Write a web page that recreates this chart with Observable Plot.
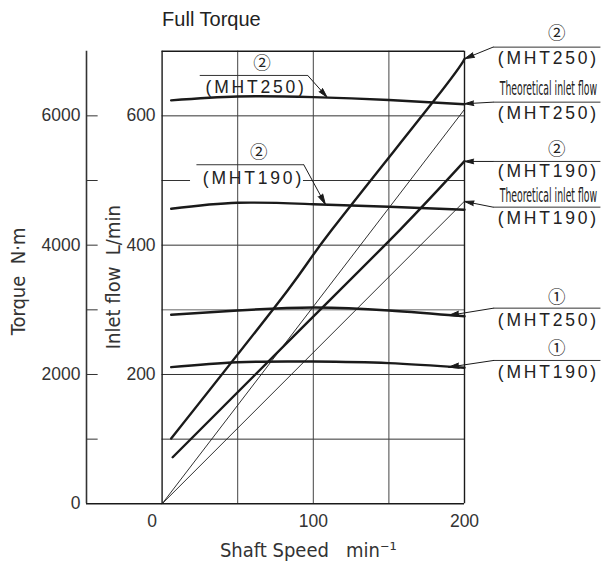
<!DOCTYPE html>
<html><head><meta charset="utf-8">
<script src="https://cdn.jsdelivr.net/npm/d3@7"></script>
<script src="https://cdn.jsdelivr.net/npm/@observablehq/plot@0.6"></script>
<style>body{margin:0;background:#fff}</style>
</head><body><div id="chart"></div>
<script>
// ---- data ----
const torqueSpeed = [6, 50, 100, 150, 200];
const torque2MHT250 = [6240, 6300, 6290, 6245, 6180];
const torque2MHT190 = [4563, 4656, 4634, 4595, 4548];
const torque1MHT250 = [2923, 2990, 3035, 2990, 2900];
const torque1MHT190 = [2113, 2190, 2200, 2175, 2104];

const flow2MHT250Speed = [6, 83, 112, 180, 200];
const flow2MHT250 = [101, 330, 423, 624, 688];
const flow2MHT190Speed = [7, 92, 157, 200];
const flow2MHT190 = [72, 271, 423, 530];

const theoSpeed = [0, 200];
const theoMHT250 = [0, 610];
const theoMHT190 = [0, 468];

const speedTicks = [0, 100, 200];
const flowTickLabels = [200, 400, 600];
const flowGrid = [100, 200, 400, 500, 600];
const flowGridLight = [300];
const speedGrid = [50, 100, 150];
const torqueTicks = [1000, 2000, 3000, 4000, 5000, 6000];
const torqueTickLabels = [0, 2000, 4000, 6000];

// annotations (label texts and where they sit, in data units)
const notes = [
  {top: "②", bottom: "(MHT250)", tx: 255.5, cx: 261, ty1: 727, ty2: 688.3, lx1: 218.9, lx2: 289.9, ly: 706.3, ax: 200, ay: 688.3},
  {top: "Theoretical inlet flow", bottom: "(MHT250)", tx: 255.5, cx: 255.5, ty1: 642.3, ty2: 603.7, lx1: 218.9, lx2: 289.9, ly: 621.2, ax: 200, ay: 618.7},
  {top: "②", bottom: "(MHT190)", tx: 255.5, cx: 261, ty1: 547.6, ty2: 514, lx1: 218.9, lx2: 289.9, ly: 529.5, ax: 200, ay: 529.5},
  {top: "Theoretical inlet flow", bottom: "(MHT190)", tx: 255.5, cx: 255.5, ty1: 476.9, ty2: 441.3, lx1: 218.9, lx2: 289.9, ly: 458.8, ax: 200, ay: 467.6},
  {top: "①", bottom: "(MHT250)", tx: 255.5, cx: 261, ty1: 319.6, ty2: 283.5, lx1: 219.3, lx2: 289.9, ly: 302.6, ax: 189.5, ay: 291.3},
  {top: "①", bottom: "(MHT190)", tx: 255.5, cx: 261, ty1: 239.8, ty2: 203.6, lx1: 219.3, lx2: 289.9, ly: 221.7, ax: 189.5, ay: 211.3},
  {top: "②", bottom: "(MHT250)", tx: 62.2, cx: 66.1, ty1: 680.6, ty2: 644.4, lx1: 24.9, lx2: 96.3, ly: 662.5, ax: 109.1, ay: 628.9},
  {top: "②", bottom: "(MHT190)", tx: 60.4, cx: 63.9, ty1: 543.9, ty2: 502.7, lx1: 22.7, lx2: 93.7, ly: 524.4, ax: 108, ay: 463}
];

const toRows = (xs, ys) => xs.map((x, i) => ({x, y: ys[i]}));
const torqueRows = ys => torqueSpeed.map((x, i) => ({x, y: ys[i] / 10}));

const sans = "'Liberation Sans', Arial, Helvetica, sans-serif";
const narrow = "'Liberation Sans Narrow', 'Arial Narrow', 'DejaVu Sans Condensed', 'Liberation Sans', sans-serif";
const circled = "'Noto Sans CJK JP', 'DejaVu Sans', sans-serif";
const ink = "#1a1a1a";

const thick = 2.4, thin = 0.9;

const svg = Plot.plot({
  width: 603,
  height: 562,
  marginLeft: 86,
  marginRight: 139,
  marginTop: 50.7,
  marginBottom: 58.7,
  x: {domain: [-50, 200], axis: null},
  y: {domain: [0, 700], axis: null},
  style: {background: "white", color: ink},
  marks: [
    // grid
    Plot.ruleY(flowGrid, {x1: 0, x2: 200, stroke: "#333", strokeWidth: 1}),
    Plot.ruleY(flowGridLight, {x1: 0, x2: 200, stroke: "#999", strokeWidth: 1.5}),
    // gap in the 500 gridline behind the left label
    Plot.rect([0], {x1: 18.8, x2: 93.5, y1: 496, y2: 504, fill: "white"}),
    Plot.ruleX(speedGrid, {y1: 0, y2: 700, stroke: "#444", strokeWidth: 1}),
    // frame
    Plot.ruleX([0, 200], {y1: 0, y2: 700, stroke: ink, strokeWidth: 1.4}),
    Plot.ruleY([700], {x1: 0, x2: 200, stroke: ink, strokeWidth: 1.4}),
    Plot.ruleY([0], {x1: -50, x2: 200, stroke: ink, strokeWidth: 1.6}),
    // torque axis
    Plot.ruleX([-50], {y1: 0, y2: 700, stroke: "#333", strokeWidth: 1.6}),
    Plot.ruleY(torqueTicks, {y: d => d / 10, x1: -50, x2: -42.3, stroke: "#333", strokeWidth: 1}),
    Plot.text(torqueTickLabels, {x: -50, y: d => d / 10, text: d => String(d), dx: -6, textAnchor: "end", fontSize: 17.5, fontFamily: sans, fill: "#333"}),
    // flow axis labels
    Plot.text(flowTickLabels, {x: 0, y: d => d, text: d => String(d), dx: -6.5, textAnchor: "end", fontSize: 17.5, fontFamily: sans, fill: "#333"}),
    // speed axis labels
    Plot.text(speedTicks.filter(d => d !== 0), {x: d => d, y: 0, text: d => String(d), dy: 17.5, fontSize: 17.5, fontFamily: sans, fill: "#333"}),
    Plot.text(speedTicks.filter(d => d === 0), {x: d => d, y: 0, text: d => String(d), dy: 17.5, dx: -10, fontSize: 17.5, fontFamily: sans, fill: "#333"}),
    // titles
    Plot.text(["Full Torque"], {x: 0, y: 749, textAnchor: "start", fontSize: 20, fontFamily: sans, fill: "#222"}),
    Plot.text(["Torque  N·m"], {x: -95, y: 344, rotate: -90, fontSize: 20, fontFamily: narrow, fill: "#333"}),
    Plot.text(["Inlet flow  L/min"], {x: -32.2, y: 350.5, rotate: -90, fontSize: 20, fontFamily: narrow, fill: "#333"}),
    Plot.text(["Shaft Speed   min⁻¹"], {x: 96.7, y: -72.3, fontSize: 20, fontFamily: narrow, fill: "#333"}),
    // theoretical inlet flow (thin)
    Plot.line(toRows(theoSpeed, theoMHT250), {x: "x", y: "y", stroke: ink, strokeWidth: thin}),
    Plot.line(toRows(theoSpeed, theoMHT190), {x: "x", y: "y", stroke: ink, strokeWidth: thin}),
    // actual inlet flow (thick)
    Plot.line(toRows(flow2MHT250Speed, flow2MHT250), {x: "x", y: "y", curve: "natural", stroke: ink, strokeWidth: thick}),
    Plot.line(toRows(flow2MHT190Speed, flow2MHT190), {x: "x", y: "y", curve: "natural", stroke: ink, strokeWidth: thick}),
    // torque curves (thick)
    Plot.line(torqueRows(torque2MHT250), {x: "x", y: "y", curve: "natural", stroke: ink, strokeWidth: thick}),
    Plot.line(torqueRows(torque2MHT190), {x: "x", y: "y", curve: "natural", stroke: ink, strokeWidth: thick}),
    Plot.line(torqueRows(torque1MHT250), {x: "x", y: "y", curve: "natural", stroke: ink, strokeWidth: thick}),
    Plot.line(torqueRows(torque1MHT190), {x: "x", y: "y", curve: "natural", stroke: ink, strokeWidth: thick}),
    // annotations
    Plot.link(notes, {x1: "lx1", x2: "lx2", y1: "ly", y2: "ly", stroke: "#333", strokeWidth: 1}),
    Plot.arrow(notes, {x1: d => d.tx < 100 ? d.lx2 : d.lx1, y1: "ly", x2: "ax", y2: "ay", stroke: ink, fill: ink, strokeWidth: 1, headAngle: 28, headLength: 16}),
    Plot.text(notes.filter(d => d.top.length === 1), {x: "cx", y: "ty1", text: "top", fontSize: 17.5, fontFamily: circled, fill: "#222"}),
    Plot.text(notes.filter(d => d.top.length > 1), {x: "tx", y: "ty1", text: "top", fontSize: 19, fontFamily: narrow, fill: "#222"}),
    Plot.text(notes, {x: "tx", y: "ty2", text: "bottom", fontSize: 17.5, fontFamily: sans, fill: "#222"})
  ]
});

document.getElementById("chart").append(svg);

// typographic touches the text mark has no option for
const svgBox = svg.getBoundingClientRect();
d3.select(svg).selectAll("text").each(function () {
  const t = this.textContent;
  if (/MHT/.test(t)) this.setAttribute("letter-spacing", "2.8px");
  if (/Theoretical/.test(t)) {
    const r = this.getBoundingClientRect();
    if (!(r.width > 0)) return;
    const s = 98 / r.width;
    const cx = r.x + r.width / 2 - svgBox.x;
    const g = document.createElementNS("http://www.w3.org/2000/svg", "g");
    g.setAttribute("transform", `translate(${cx},0) scale(${s},1) translate(${-cx},0)`);
    this.parentNode.insertBefore(g, this);
    g.appendChild(this);
  }
});
</script>
</body></html>
